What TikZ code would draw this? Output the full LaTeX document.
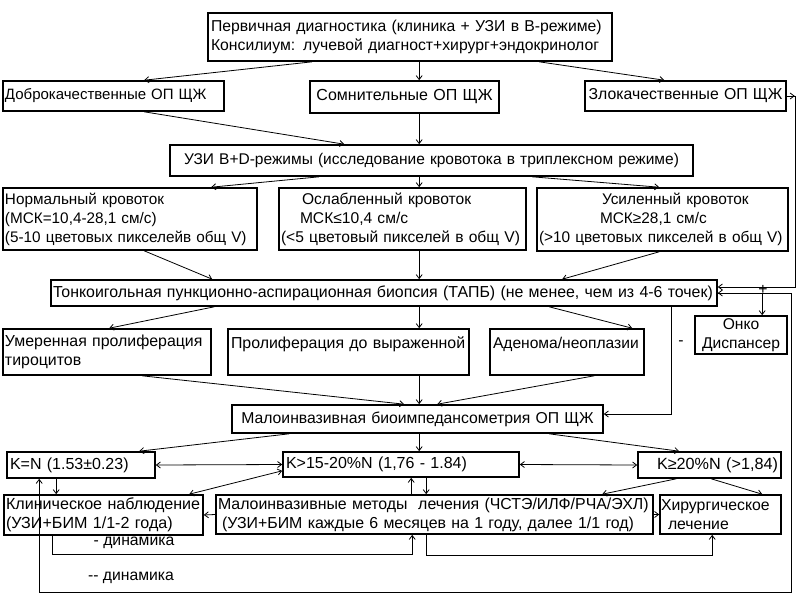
\documentclass[tikz,border=0pt]{standalone}
\usepackage{fontspec}
\setmainfont{Liberation Sans}
\usetikzlibrary{arrows.meta}
\begin{document}
\begin{tikzpicture}[x=1pt,y=-1pt,
  fs/.style={font=\fontsize{#1}{19}\selectfont},
  box/.style={draw, line width=1.6pt, inner xsep=3pt, inner ysep=0pt, anchor=center},
  conn/.style={line width=0.8pt, -{Straight Barb[length=4pt,width=6pt]}},
  dconn/.style={line width=0.8pt, {Straight Barb[length=4pt,width=6pt]}-{Straight Barb[length=4pt,width=6pt]}},
  lbl/.style={inner sep=0pt, fs=15.75}]
\fill[white] (0,0) rectangle (800,600);
\useasboundingbox (0,0) rectangle (800,600);

% boxes
\node[box, fs=15.75, minimum width=404pt, minimum height=48pt, text width=398pt, align=left] (top) at (410,37) {\mbox{Первичная диагностика (клиника + УЗИ в В-режиме)}\\\mbox{Консилиум: лучевой диагност+хирург+эндокринолог}};
\node[box, fs=15, minimum width=221pt, minimum height=30pt, text width=217pt, inner xsep=2pt, align=left] (dobro) at (113.5,96) {\mbox{Доброкачественные ОП ЩЖ}};
\node[box, fs=16, minimum width=189pt, minimum height=32pt, text width=183pt, align=center] (somn) at (404.5,97) {Сомнительные ОП ЩЖ};
\node[box, fs=15.8, minimum width=201pt, minimum height=30pt, text width=195pt, align=center] (zlo) at (685.5,96) {Злокачественные ОП ЩЖ};
\node[box, fs=15.5, minimum width=523pt, minimum height=31pt, text width=517pt, align=center] (uzi) at (431.5,160.5) {УЗИ B+D-режимы (исследование кровотока в триплексном режиме)};
\node[box, fs=15.3, minimum width=254pt, minimum height=62pt, text width=250pt, inner xsep=2pt, align=left] (normal) at (130,219) {Нормальный кровоток\\(МСК=10,4-28,1 см/с)\\\mbox{(5-10 цветовых пикселейв общ V)}};
\node[box, fs=15.6, minimum width=247pt, minimum height=62pt, text width=243pt, inner xsep=2pt, align=left] (oslab) at (402.5,219) {\hspace*{21pt}Ослабленный кровоток\\\hspace*{19pt}МСК≤10,4 см/с\\\mbox{(<5 цветовый пикселей в общ V)}};
\node[box, fs=15.4, minimum width=251pt, minimum height=63pt, text width=247pt, inner xsep=2pt, align=left] (usil) at (662.5,219.5) {\hspace*{63pt}Усиленный кровоток\\\hspace*{61pt}МСК≥28,1 см/с\\\mbox{(>10 цветовых пикселей в общ V)}};
\node[box, fs=15.9, minimum width=666pt, minimum height=26pt, text width=662pt, inner xsep=2pt, align=left] (tapb) at (384,293) {\mbox{Тонкоигольная пункционно-аспирационная биопсия (ТАПБ) (не менее, чем из 4-6 точек)}};
\node[box, fs=15.9, minimum width=208pt, minimum height=46pt, text width=204pt, inner xsep=2pt, align=left] (umeren) at (107,352) {\mbox{Умеренная пролиферация}\\тироцитов};
\node[box, fs=15.9, minimum width=241pt, minimum height=46pt, text width=235pt, align=left] (prolif) at (348.5,352) {\mbox{Пролиферация до выраженной}\\\mbox{}};
\node[box, fs=15.6, minimum width=154pt, minimum height=46pt, text width=148pt, align=left] (adenoma) at (567,352) {\mbox{Аденома/неоплазии}\\\mbox{}};
\node[box, fs=15.6, minimum width=92pt, minimum height=38pt, text width=88pt, inner xsep=2pt, align=center] (onko) at (741,335) {Онко\\Диспансер};
\node[box, fs=15.75, minimum width=371pt, minimum height=28pt, text width=365pt, align=center] (bim) at (417.5,419) {Малоинвазивная биоимпедансометрия ОП ЩЖ};
\node[box, fs=16, minimum width=148pt, minimum height=26pt, text width=142pt, align=left] (kn) at (81,465) {K=N (1.53±0.23)};
\node[box, fs=16, minimum width=236pt, minimum height=25pt, text width=230pt, align=left] (k15) at (401,464.5) {\mbox{K>15-20\%N (1,76 - 1.84)}};
\node[box, fs=16.2, minimum width=143pt, minimum height=26pt, text width=137pt, align=right] (k20) at (709.5,465) {\mbox{K≥20\%N (>1,84)}};
\node[box, fs=16.1, minimum width=199pt, minimum height=40pt, text width=195pt, inner xsep=2pt, align=left] (klin) at (103.5,515) {\mbox{Клиническое наблюдение}\\\mbox{(УЗИ+БИМ 1/1-2 года)}};
\node[box, fs=15.9, minimum width=437pt, minimum height=39pt, text width=433pt, inner xsep=2pt, align=left] (metody) at (434.5,514.5) {\mbox{Малоинвазивные методы\ \ лечения (ЧСТЭ/ИЛФ/РЧА/ЭХЛ)}\\\mbox{\hspace*{4pt}(УЗИ+БИМ каждые 6 месяцев на 1 году, далее 1/1 год)}};
\node[box, fs=15.8, minimum width=121pt, minimum height=39pt, text width=119pt, inner xsep=1pt, align=left] (khir) at (720.5,514.5) {\mbox{Хирургическое}\\\hspace*{7pt}лечение};

% corner coordinates
\coordinate (cornA) at (791,592);

% connectors
\draw[conn] ([xshift=105pt]top.south west) -- ([xshift=142pt]dobro.north west);
\draw[conn] ([xshift=212pt]top.south west) -- ([xshift=110pt]somn.north west);
\draw[conn] ([xshift=332pt]top.south west) -- ([xshift=80pt]zlo.north west);
\draw[conn] ([xshift=142pt]dobro.south west) -- ([xshift=175pt]uzi.north west);
\draw[conn] ([xshift=110pt]somn.south west) -- ([xshift=250pt]uzi.north west);
\draw[conn] ([xshift=150pt]uzi.south west) -- ([xshift=209pt]normal.north west);
\draw[conn] ([xshift=250pt]uzi.south west) -- ([xshift=141pt]oslab.north west);
\draw[conn] ([xshift=363pt]uzi.south west) -- ([xshift=123pt]usil.north west);
\draw[conn] ([xshift=142pt]normal.south west) -- ([xshift=162pt]tapb.north west);
\draw[conn] ([xshift=141pt]oslab.south west) -- ([xshift=369pt]tapb.north west);
\draw[conn] ([xshift=123pt]usil.south west) -- ([xshift=512pt]tapb.north west);
\draw[conn] ([xshift=164pt]tapb.south west) -- ([xshift=107pt]umeren.north west);
\draw[conn] ([xshift=369pt]tapb.south west) -- ([xshift=192pt]prolif.north west);
\draw[conn] ([xshift=499pt]tapb.south west) -- ([xshift=143pt]adenoma.north west);
\draw[conn] (tapb.east) -| ([xshift=68pt]onko.north west);
\draw[conn] (zlo.east) -- ++(8,0);
\draw[conn] (zlo.east) -- ++(9,0) |- ([yshift=6pt]tapb.east);
\draw[dconn] ([xshift=33pt]kn.south west) |- (cornA) |- (tapb.east);
\draw[conn] ([xshift=621pt]tapb.south west) |- ([yshift=5pt]bim.east);
\draw[conn] ([xshift=140pt]umeren.south west) -- ([xshift=173pt]bim.north west);
\draw[conn] ([xshift=192pt]prolif.south west) -- ([xshift=188pt]bim.north west);
\draw[conn] ([xshift=105pt]adenoma.south west) -- ([xshift=206pt]bim.north west);
\draw[conn] ([xshift=58pt]bim.south west) -- ([xshift=133pt]kn.north west);
\draw[conn] ([xshift=188pt]bim.south west) -- ([xshift=137pt]k15.north west);
\draw[conn] ([xshift=318pt]bim.south west) -- ([xshift=42pt]k20.north west);
\draw[dconn] (kn.east) -- (k15.west);
\draw[dconn] (k15.east) -- (k20.west);
\draw[conn] ([xshift=50pt]kn.south west) -- ([xshift=53pt]klin.north west);
\draw[dconn] ([xshift=186pt]klin.north west) -- ([yshift=7pt]k15.south west);
\draw[conn] (metody.west) -- (klin.east);
\draw[conn] ([xshift=196pt]metody.north west) -- ([xshift=129pt]k15.south west);
\draw[conn] ([xshift=144pt]k15.south west) -- ([xshift=211pt]metody.north west);
\draw[conn] ([xshift=39pt]k20.south west) -- ([xshift=387pt]metody.north west);
\draw[conn] ([xshift=74pt]k20.south west) -- ([xshift=103pt]khir.north west);
\draw[conn] (metody.east) -- (khir.west);
\draw[conn] ([xshift=49pt]klin.south west) -- ++(0,19) -| ([xshift=197pt]metody.south west);
\draw[conn] ([xshift=211pt]metody.south west) -- ++(0,21) -| ([xshift=53pt]khir.south west);

% labels
\node[lbl] (plus) at (763,290) {+};
\node[lbl] (minus) at (681,343) {-};
\node[lbl] (dyn1) at (134,543) {- динамика};
\node[lbl] (dyn2) at (131,578) {-{}- динамика};
\end{tikzpicture}
\end{document}
